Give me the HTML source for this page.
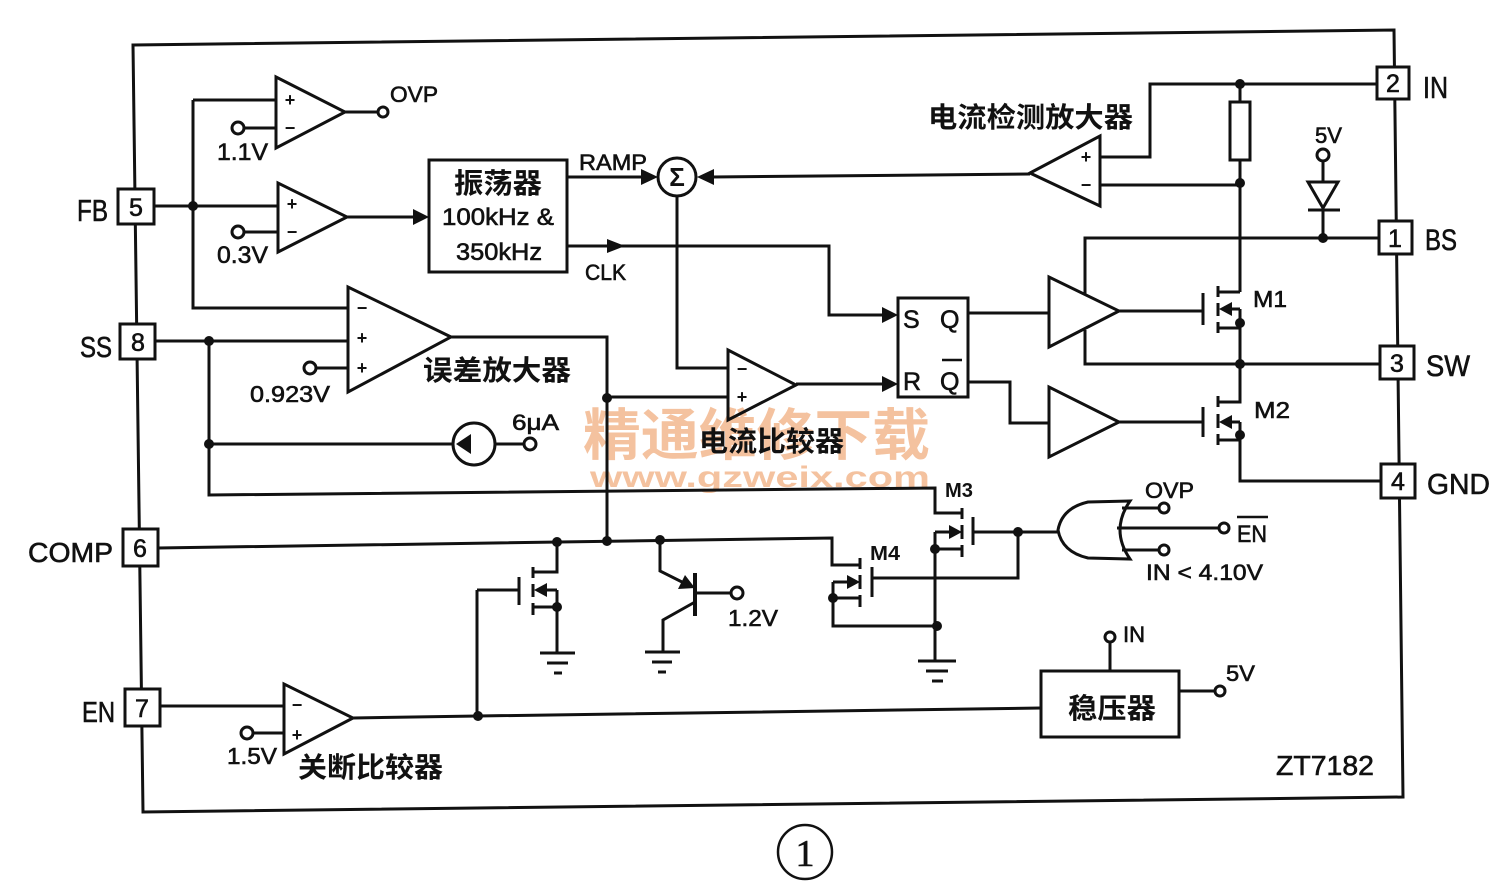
<!DOCTYPE html>
<html><head><meta charset="utf-8">
<style>
html,body{margin:0;padding:0;background:#fff;}
svg{display:block;}
.t{font-family:"Liberation Sans","Noto Sans CJK SC",sans-serif;fill:#111;stroke:#111;stroke-width:0.6;}
.c{font-family:"Liberation Sans","Noto Sans CJK SC",sans-serif;font-weight:bold;fill:#111;}
.w{font-family:"Liberation Sans","Noto Sans CJK SC",sans-serif;font-weight:bold;fill:#f4c29f;}
</style></head>
<body>
<svg width="1512" height="896" viewBox="0 0 1512 896" xmlns="http://www.w3.org/2000/svg">
<rect width="1512" height="896" fill="#fff"/>
<!-- watermark -->
<text class="w" x="583" y="455" font-size="56" textLength="347" lengthAdjust="spacingAndGlyphs">精通维修下载</text>
<text class="w" x="590" y="487" font-size="30" textLength="340" lengthAdjust="spacingAndGlyphs">www.gzweix.com</text>

<g fill="none" stroke="#111" stroke-width="3">
<!-- outer border -->
<path d="M133,45 L1394,30 L1403,797 L143,812 Z"/>
<!-- comparator 1 OVP -->
<path d="M276,77 L276,148 L345,112 Z"/>
<path d="M193,100 H276 M244,128 H276 M345,112 H378"/>
<circle cx="238" cy="128" r="6"/>
<circle cx="383" cy="112" r="5"/>
<!-- comparator 2 -->
<path d="M278,183 L278,252 L347,217 Z"/>
<path d="M154,206 H278 M244,232 H278 M347,217 H415"/>
<circle cx="238" cy="232" r="6"/>
<!-- FB vertical -->
<path d="M193,100 V308 H348"/>
<!-- oscillator -->
<rect x="429" y="160" width="138" height="112"/>
<!-- RAMP -->
<path d="M567,177 H645"/>
<circle cx="677" cy="177" r="19"/>
<path d="M1030,174 L712,177"/>
<!-- CLK -->
<path d="M567,246 H829 V315 H885"/>
<!-- sigma down -->
<path d="M677,196 V368 H728"/>
<!-- current comparator -->
<path d="M728,350 L728,420 L796,385 Z"/>
<path d="M607,397 H728 M796,384 H885"/>
<!-- flip flop -->
<rect x="898" y="298" width="70" height="99"/>
<path d="M968,313 H1049 M968,382 H1010 V423 H1049"/>
<!-- buffers -->
<path d="M1049,277 L1049,347 L1119,311 Z"/>
<path d="M1049,387 L1049,457 L1119,422 Z"/>
<!-- M1 -->
<path d="M1119,311 H1203 M1203,293 V325"/>
<path d="M1218,286 V297 M1218,303 V316 M1218,322 V333"/>
<path d="M1218,292 H1240 M1218,328 H1240 M1240,309 H1228 M1240,309 V365"/>
<!-- M2 -->
<path d="M1119,422 H1203 M1203,407 V437"/>
<path d="M1218,396 V407 M1218,414 V428 M1218,434 V445"/>
<path d="M1218,402 H1240 V364 M1218,440 H1240 M1240,422 H1228 M1240,422 V481 H1381"/>
<!-- SW / BS -->
<path d="M1085,330 V364 H1380 M1085,294 V238 H1379"/>
<!-- current sense amp -->
<path d="M1030,173 L1100,136 L1100,206 Z"/>
<path d="M1100,157 H1150 V84 H1377 M1100,185 H1240"/>
<rect x="1230" y="102" width="20" height="58"/>
<path d="M1240,84 V102 M1240,160 V292"/>
<!-- 5V diode -->
<circle cx="1323" cy="155" r="6"/>
<path d="M1323,161 V182 M1308,182 H1338 L1323,208 Z M1308,210 H1340 M1323,208 V238"/>
<!-- error amp -->
<path d="M348,287 L348,392 L451,337 Z"/>
<path d="M155,341 H348 M316,368 H348 M451,337 H607 V541"/>
<circle cx="310" cy="368" r="6"/>
<path d="M209,341 V495 L935,488 V513 H962"/>
<!-- current source -->
<circle cx="474" cy="444" r="21"/>
<path d="M209,444 H453 M495,444 H524"/>
<circle cx="530" cy="444" r="6"/>
<!-- COMP line -->
<path d="M158,548 L832,538 V565 H860"/>
<!-- NMOS left -->
<path d="M557,542 V572 H533"/>
<path d="M533,567 V578 M533,584 V597 M533,603 V615"/>
<path d="M519,577 V605 M477,590 H519 M477,590 V716"/>
<path d="M557,590 H543 M533,607 H557 M557,590 V653"/>
<path d="M540,653 H575 M547,663 H568 M554,673 H562"/>
<!-- BJT -->
<path d="M660,540 V571 L686,584"/>
<path d="M695,573 V616" stroke-width="4"/>
<path d="M695,593 H731 M695,602 L663,620 V652"/>
<circle cx="737" cy="593" r="6"/>
<path d="M645,652 H680 M652,662 H672 M658,672 H666"/>
<!-- M4 -->
<path d="M860,558 V569 M860,575 V589 M860,595 V607"/>
<path d="M872,567 V597 M872,578 H1018 V532"/>
<path d="M833,582 H849 M833,598 H860 M833,582 V626 H937"/>
<!-- M3 -->
<path d="M962,508 V519 M962,525 V539 M962,545 V557"/>
<path d="M973,517 V545 M973,532 H1058"/>
<path d="M935,532 H951 M935,549 H962 M935,532 V661"/>
<path d="M918,661 H956 M926,671 H948 M932,681 H943"/>
<!-- NOR gate -->
<path d="M1130,501 L1088,502 Q1062,508 1058,530 Q1062,552 1088,558 L1130,559 Q1110,530 1130,501 Z"/>
<path d="M1122,508 H1159 M1117,528 H1219 M1122,550 H1159"/>
<circle cx="1164" cy="508" r="5"/>
<circle cx="1224" cy="528" r="5"/>
<circle cx="1164" cy="550" r="5"/>
<path d="M1237,517 H1268" stroke-width="2.5"/>
<!-- EN comparator -->
<path d="M284,684 L284,754 L353,718 Z"/>
<path d="M160,706 H284 M253,733 H284 M353,718 L478,716 L1041,708"/>
<circle cx="247" cy="733" r="6"/>
<!-- regulator -->
<rect x="1041" y="671" width="138" height="66"/>
<circle cx="1110" cy="637" r="5"/>
<path d="M1110,642 V671 M1179,691 H1215"/>
<circle cx="1220" cy="691" r="5"/>
<!-- circled 1 -->
<circle cx="805" cy="852" r="27" stroke-width="2.5"/>
<!-- flip-flop Qbar overline -->
<path d="M942,360 H962" stroke-width="2.5"/>
</g>

<!-- arrowheads & dots -->
<g fill="#111" stroke="none">
<polygon points="413,209 429,217 413,225"/>
<polygon points="641,169 658,177 641,185"/>
<polygon points="714,169 697,177 714,185"/>
<polygon points="607,239 625,246 607,253"/>
<polygon points="882,307 898,315 882,323"/>
<polygon points="882,376 898,384 882,392"/>
<polygon points="1219,309 1232,302 1232,316"/>
<polygon points="1219,422 1232,415 1232,429"/>
<polygon points="456,444 471,434 471,454"/>
<polygon points="534,590 547,583 547,597"/>
<polygon points="695,588 678,589 685,575"/>
<polygon points="860,582 847,575 847,589"/>
<polygon points="962,532 949,525 949,539"/>
<circle cx="193" cy="206" r="5"/>
<circle cx="1240" cy="84" r="5"/>
<circle cx="1240" cy="183" r="5"/>
<circle cx="1323" cy="238" r="5"/>
<circle cx="1240" cy="323" r="5"/>
<circle cx="1240" cy="364" r="5"/>
<circle cx="1240" cy="435" r="5"/>
<circle cx="209" cy="341" r="5"/>
<circle cx="209" cy="444" r="5"/>
<circle cx="607" cy="398" r="5"/>
<circle cx="557" cy="542" r="5"/>
<circle cx="607" cy="541" r="5"/>
<circle cx="660" cy="540" r="5"/>
<circle cx="557" cy="607" r="5"/>
<circle cx="833" cy="598" r="5"/>
<circle cx="935" cy="549" r="5"/>
<circle cx="937" cy="626" r="5"/>
<circle cx="1018" cy="532" r="5"/>
<circle cx="478" cy="716" r="5"/>
</g>

<!-- pin boxes -->
<g fill="#fff" stroke="#111" stroke-width="3">
<rect x="118" y="189" width="36" height="35"/>
<rect x="120" y="324" width="35" height="35"/>
<rect x="123" y="529" width="35" height="37"/>
<rect x="125" y="689" width="35" height="37"/>
<rect x="1377" y="67" width="32" height="32"/>
<rect x="1379" y="221" width="33" height="33"/>
<rect x="1380" y="346" width="34" height="33"/>
<rect x="1381" y="464" width="34" height="34"/>
</g>
<g class="t" font-size="25" text-anchor="middle">
<text x="136" y="216">5</text>
<text x="138" y="351">8</text>
<text x="140" y="557">6</text>
<text x="142" y="717">7</text>
<text x="1393" y="92">2</text>
<text x="1395" y="247">1</text>
<text x="1397" y="372">3</text>
<text x="1398" y="490">4</text>
</g>

<!-- comparator signs -->
<g class="c" font-size="18" text-anchor="middle">
<text x="290" y="106">+</text>
<text x="290" y="134">−</text>
<text x="292" y="210">+</text>
<text x="292" y="238">−</text>
<text x="362" y="314">−</text>
<text x="362" y="344">+</text>
<text x="362" y="374">+</text>
<text x="742" y="375">−</text>
<text x="742" y="403">+</text>
<text x="1086" y="163">+</text>
<text x="1086" y="191">−</text>
<text x="297" y="711">−</text>
<text x="297" y="741">+</text>
</g>
<text class="c" x="677" y="186" font-size="26" text-anchor="middle">Σ</text>

<!-- labels -->
<g class="t">
<text x="77" y="221" font-size="31" textLength="31" lengthAdjust="spacingAndGlyphs">FB</text>
<text x="80" y="357" font-size="29" textLength="32" lengthAdjust="spacingAndGlyphs">SS</text>
<text x="28" y="562" font-size="28" textLength="85" lengthAdjust="spacingAndGlyphs">COMP</text>
<text x="82" y="722" font-size="29" textLength="33" lengthAdjust="spacingAndGlyphs">EN</text>
<text x="1423" y="98" font-size="31" textLength="25" lengthAdjust="spacingAndGlyphs">IN</text>
<text x="1425" y="250" font-size="30" textLength="32" lengthAdjust="spacingAndGlyphs">BS</text>
<text x="1426" y="376" font-size="30" textLength="44" lengthAdjust="spacingAndGlyphs">SW</text>
<text x="1427" y="494" font-size="29" textLength="63" lengthAdjust="spacingAndGlyphs">GND</text>
<text x="390" y="102" font-size="22" textLength="48" lengthAdjust="spacingAndGlyphs">OVP</text>
<text x="217" y="160" font-size="24" textLength="51" lengthAdjust="spacingAndGlyphs">1.1V</text>
<text x="217" y="263" font-size="24" textLength="51" lengthAdjust="spacingAndGlyphs">0.3V</text>
<text x="579" y="170" font-size="22" textLength="68" lengthAdjust="spacingAndGlyphs">RAMP</text>
<text x="585" y="280" font-size="22" textLength="41" lengthAdjust="spacingAndGlyphs">CLK</text>
<text x="442" y="225" font-size="24" textLength="112" lengthAdjust="spacingAndGlyphs">100kHz &amp;</text>
<text x="456" y="260" font-size="24" textLength="86" lengthAdjust="spacingAndGlyphs">350kHz</text>
<text x="250" y="402" font-size="23" textLength="80" lengthAdjust="spacingAndGlyphs">0.923V</text>
<text x="512" y="430" font-size="22" textLength="47" lengthAdjust="spacingAndGlyphs">6μA</text>
<text x="903" y="328" font-size="25">S</text>
<text x="940" y="328" font-size="25">Q</text>
<text x="903" y="390" font-size="25">R</text>
<text x="940" y="390" font-size="25">Q</text>
<text x="1253" y="307" font-size="23" textLength="34" lengthAdjust="spacingAndGlyphs">M1</text>
<text x="1254" y="418" font-size="23" textLength="36" lengthAdjust="spacingAndGlyphs">M2</text>
<text x="1315" y="143" font-size="22" textLength="27" lengthAdjust="spacingAndGlyphs">5V</text>
<text x="728" y="626" font-size="23" textLength="50" lengthAdjust="spacingAndGlyphs">1.2V</text>
<text x="1145" y="498" font-size="22" textLength="49" lengthAdjust="spacingAndGlyphs">OVP</text>
<text x="1237" y="542" font-size="24" textLength="30" lengthAdjust="spacingAndGlyphs">EN</text>
<text x="1146" y="580" font-size="22" textLength="117" lengthAdjust="spacingAndGlyphs">IN &lt; 4.10V</text>
<text x="1123" y="642" font-size="22" textLength="22" lengthAdjust="spacingAndGlyphs">IN</text>
<text x="1226" y="681" font-size="22" textLength="29" lengthAdjust="spacingAndGlyphs">5V</text>
<text x="227" y="764" font-size="23" textLength="50" lengthAdjust="spacingAndGlyphs">1.5V</text>
<text x="1276" y="775" font-size="28" textLength="98" lengthAdjust="spacingAndGlyphs">ZT7182</text>
<text x="805" y="866" font-size="38" text-anchor="middle" font-family="Liberation Serif, serif">1</text>
</g>
<g class="c">
<text x="945" y="497" font-size="20" textLength="28" lengthAdjust="spacingAndGlyphs">M3</text>
<text x="870" y="560" font-size="20" textLength="30" lengthAdjust="spacingAndGlyphs">M4</text>
<text x="454" y="193" font-size="28" textLength="88" lengthAdjust="spacingAndGlyphs">振荡器</text>
<text x="423" y="380" font-size="28" textLength="148" lengthAdjust="spacingAndGlyphs">误差放大器</text>
<text x="699" y="451" font-size="28" textLength="145" lengthAdjust="spacingAndGlyphs">电流比较器</text>
<text x="928" y="127" font-size="28" textLength="205" lengthAdjust="spacingAndGlyphs">电流检测放大器</text>
<text x="1068" y="718" font-size="28" textLength="88" lengthAdjust="spacingAndGlyphs">稳压器</text>
<text x="298" y="777" font-size="28" textLength="145" lengthAdjust="spacingAndGlyphs">关断比较器</text>
</g>
</svg>
</body></html>
